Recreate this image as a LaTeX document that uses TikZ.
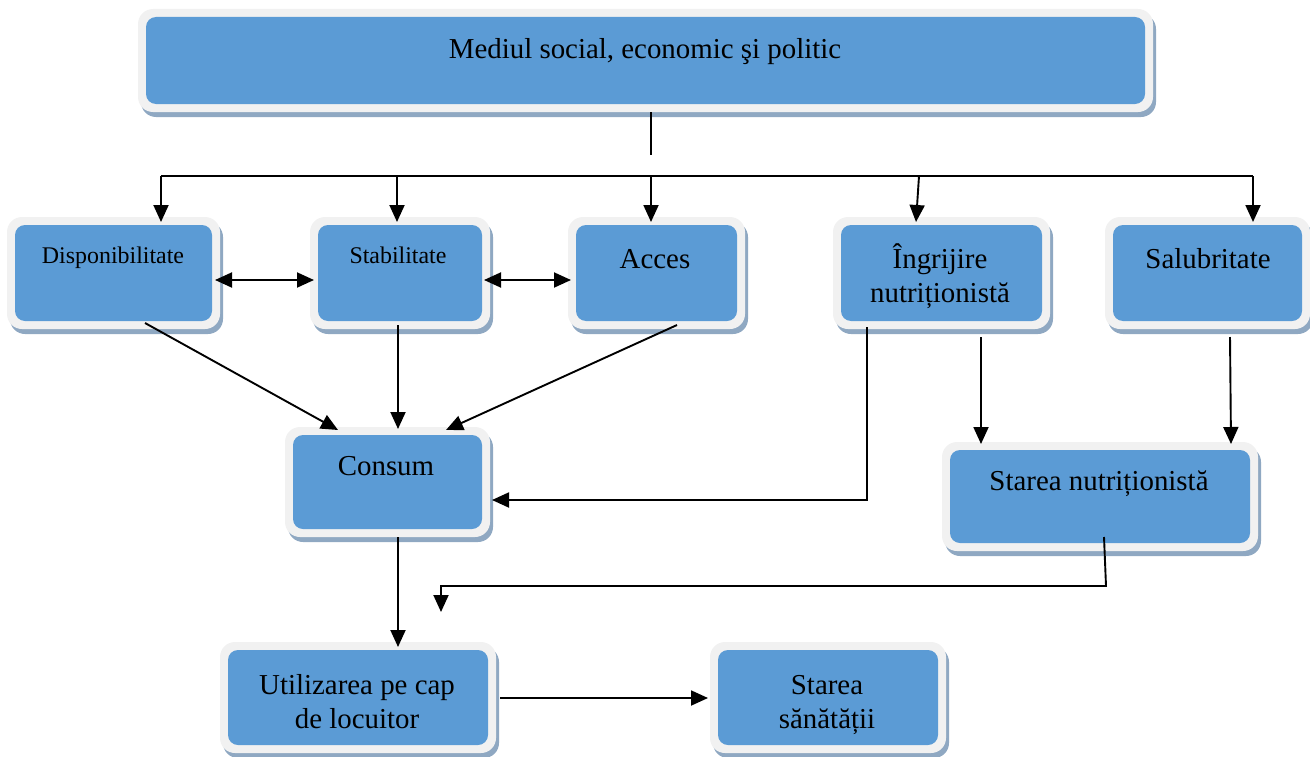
\documentclass[tikz,border=0pt]{standalone}
\usepackage{fontspec}
\setmainfont{Liberation Serif}
\usetikzlibrary{arrows.meta,calc}
\definecolor{boxblue}{HTML}{5B9BD5}
\definecolor{framec}{HTML}{F1F1F1}
\definecolor{shadowc}{HTML}{8FA8C2}
\tikzset{
  conn/.style={line width=1.9bp, draw=black},
  arr/.style={conn, -{Triangle[length=17bp,width=15bp]}},
  darr/.style={conn, {Triangle[length=17bp,width=15bp]}-{Triangle[length=17bp,width=15bp]}},
  big/.style={font=\fontsize{29}{34}\selectfont, anchor=base, align=center, inner sep=0},
  small/.style={font=\fontsize{24}{28}\selectfont, anchor=base, inner sep=0},
}
% name, x1, y1, x2, y2 (inner blue rectangle, pixel coords)
\newcommand\mybox[5]{%
  \fill[shadowc, rounded corners=15bp] ({#2-8+3},{#3-8+5}) rectangle ({#4+8+3},{#5+8+5});
  \fill[framec, rounded corners=15bp] ({#2-8},{#3-8}) rectangle ({#4+8},{#5+8});
  \node[fill=boxblue, rounded corners=10bp, inner sep=0, minimum width={(#4-#2)*1bp}, minimum height={(#5-#3)*1bp}] (#1) at ({(#2+#4)/2},{(#3+#5)/2}) {};
}
\begin{document}
\begin{tikzpicture}[x=1bp, y=-1bp]
\useasboundingbox (0,0) rectangle (1310,756);
\mybox{top}{146}{17}{1145}{104}
\mybox{disp}{15}{225}{212}{321}
\mybox{stab}{318}{225}{482}{321}
\mybox{acces}{576}{225}{737}{321}
\mybox{ingr}{841}{225}{1042}{321}
\mybox{salub}{1113}{225}{1302}{321}
\mybox{consum}{293}{435}{482}{529}
\mybox{stnutr}{950}{450}{1250}{543}
\mybox{util}{228}{650}{488}{745}
\mybox{sanat}{718}{650}{938}{745}

\node[big] (ttop) at (645,59) {Mediul social, economic şi politic};
\node[small] (tdisp) at (113,263) {Disponibilitate};
\node[small] (tstab) at (398,263) {Stabilitate};
\node[big] (tacces) at (655,268) {Acces};
\node[big] (tingr) at (940,302) {Îngrijire\\nutriționistă};
\node[big] (tsalub) at (1208,268) {Salubritate};
\node[big] (tconsum) at (386,475) {Consum};
\node[big] (tstnutr) at (1099,490) {Starea nutriționistă};
\node[big] (tutil) at (357,728) {Utilizarea pe cap\\de locuitor};
\node[big] (tsanat) at (827,728) {Starea\\sănătății};

% bus from top box
\coordinate (t1) at (651,112);
\coordinate (t2) at (651,155);
\draw[conn] (t1) -- (t2);
\coordinate (b1) at (161,176);
\coordinate (b5) at (1253,176);
\draw[conn] (b1) -- (b5);
\draw[arr] (b1) -- (161,222);
\draw[arr] (397,176) -- (397,222);
\draw[arr] (651,176) -- (651,222);
\draw[arr] (919,176) -- (916,222);
\draw[arr] (b5) -- (1253,222);

% double arrows
\draw[darr] (215,280) -- (314,280);
\draw[darr] (484,280) -- (571,280);

% into Consum
\draw[arr] (145,323) -- (338,430);
\draw[arr] (398,325) -- (398,429);
\draw[arr] (677,325) -- (446,430);
\draw[arr] (867,327) -- (867,500) -- (492,500);

% into Starea nutritionista
\draw[arr] (981,337) -- (981,444);
\draw[arr] (1230,337) -- (1231,444);

% Starea nutritionista -> down
\draw[arr] (1104,537) -- (1106,586) -- (441,586) -- (441,612);

% Consum -> Utilizarea
\draw[arr] (398,537) -- (398,647);
% Utilizarea -> Starea sanatatii
\draw[arr] (500,698) -- (708,698);
\end{tikzpicture}
\end{document}
